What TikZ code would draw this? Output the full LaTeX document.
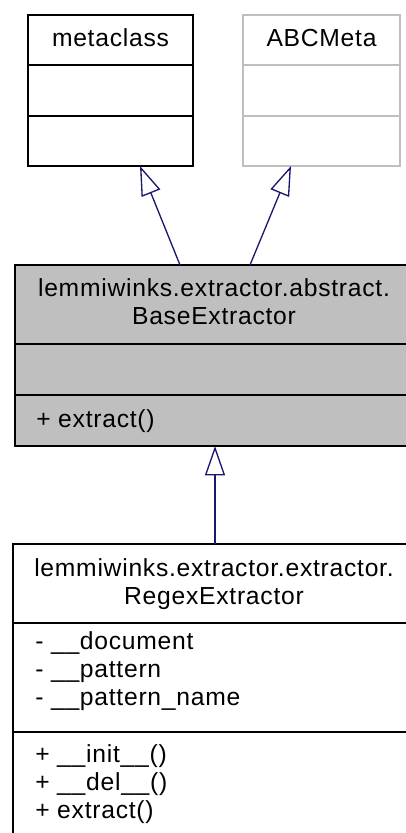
\documentclass[tikz,border=0pt]{standalone}
\usepackage{fontspec}
\setmainfont{Liberation Sans}[LetterSpace=3]
\usetikzlibrary{arrows.meta}
\definecolor{navy}{HTML}{191970}
\definecolor{lgray}{HTML}{BFBFBF}
\tikzset{
  umlbox/.style={draw, line width=1.5pt, inner sep=0pt, outer sep=0pt},
  sepline/.style={line width=1.5pt},
  lbl/.style={inner sep=0pt, anchor=base west},
  ttl/.style={inner sep=0pt, anchor=base},
  inh/.style={draw=navy, line width=1pt, -{Triangle[open, length=22pt, width=15pt, fill=white]}},
}
\begin{document}
\begin{tikzpicture}[x=0.75pt, y=-0.75pt, font=\fontsize{18.5}{21}\selectfont]
\useasboundingbox (0,0) rectangle (406,833);
\clip (0,0) rectangle (406,833);

% metaclass
\node[umlbox, minimum width=123.75pt, minimum height=113.25pt] (meta) at (110.5,90.5) {};
\draw[sepline] ([yshift=-37.5pt]meta.north west) -- ([yshift=-37.5pt]meta.north east);
\draw[sepline] ([yshift=-75.75pt]meta.north west) -- ([yshift=-75.75pt]meta.north east);
\node[ttl] (metat) at (110.5,46.7) {metaclass};

% ABCMeta
\node[umlbox, draw=lgray, minimum width=117.75pt, minimum height=113.25pt] (abc) at (321.5,90.5) {};
\draw[sepline, lgray] ([yshift=-37.5pt]abc.north west) -- ([yshift=-37.5pt]abc.north east);
\draw[sepline, lgray] ([yshift=-75.75pt]abc.north west) -- ([yshift=-75.75pt]abc.north east);
\node[ttl] (abct) at (321.5,46.7) {ABCMeta};

% BaseExtractor
\node[umlbox, fill=lgray, minimum width=300pt, minimum height=135.75pt] (base) at (215,355.5) {};
\draw[sepline] ([yshift=-59.25pt]base.north west) -- ([yshift=-59.25pt]base.north east);
\draw[sepline] ([yshift=-97.5pt]base.north west) -- ([yshift=-97.5pt]base.north east);
\node[ttl] (baset1) at (214,296) {lemmiwinks.extractor.abstract.};
\node[ttl] (baset2) at (214,324) {BaseExtractor};
\node[lbl] (basem1) at (36,427) {+ extract()};

% RegexExtractor
\node[umlbox, minimum width=303pt, minimum height=225.75pt] (regex) at (215,694.5) {};
\draw[sepline] ([yshift=-59.25pt]regex.north west) -- ([yshift=-59.25pt]regex.north east);
\draw[sepline] ([yshift=-141pt]regex.north west) -- ([yshift=-141pt]regex.north east);
\node[ttl] (regt1) at (214,576) {lemmiwinks.extractor.extractor.};
\node[ttl] (regt2) at (214,604) {RegexExtractor};
\node[lbl] (rega1) at (35,649) {- \_\_document};
\node[lbl] (rega2) at (35,677) {- \_\_pattern};
\node[lbl] (rega3) at (35,705) {- \_\_pattern\_name};
\node[lbl] (regm1) at (35,762.7) {+ \_\_init\_\_()};
\node[lbl] (regm2) at (35,790) {+ \_\_del\_\_()};
\node[lbl] (regm3) at (35,818) {+ extract()};

% inheritance arrows
\draw[inh] ([xshift=-26.25pt]base.north) -- ([xshift=22.125pt]meta.south);
\draw[inh] ([xshift=26.25pt]base.north) -- ([xshift=-22.875pt]abc.south);
\draw[inh] (regex.north) -- (base.south);
\end{tikzpicture}
\end{document}
